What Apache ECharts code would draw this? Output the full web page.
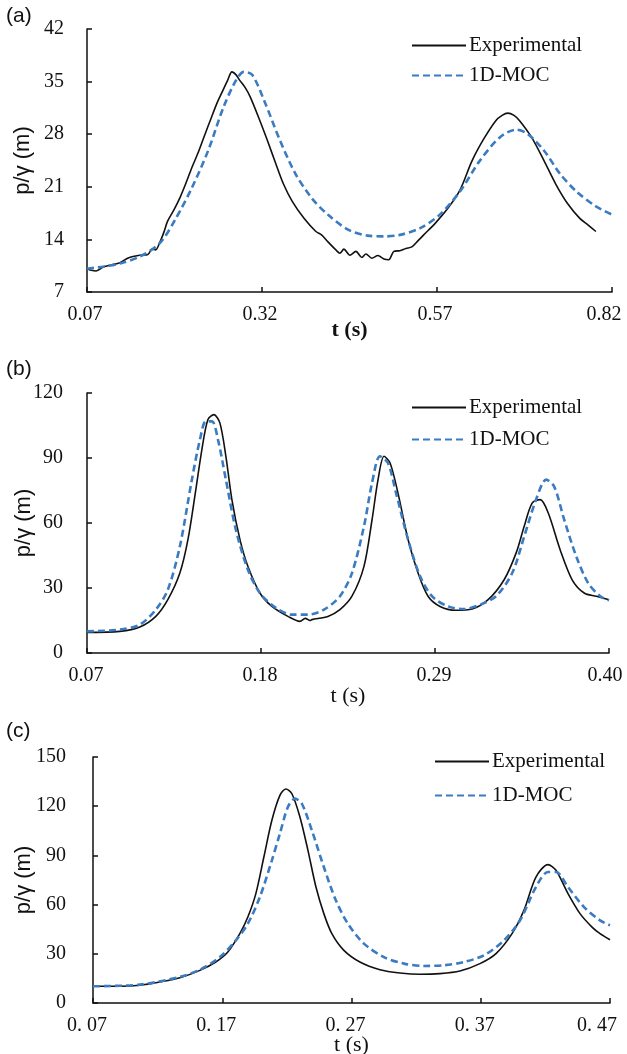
<!DOCTYPE html>
<html>
<head>
<meta charset="utf-8">
<script src="https://cdn.jsdelivr.net/npm/echarts@6/dist/echarts.min.js"></script>
<style>
html,body{margin:0;padding:0;background:#fff;}
#chart{width:627px;height:1054px;}
</style>
</head>
<body>
<div id="chart"></div>
<script>
// ---------- data ----------
const seriesNames = ['Experimental', '1D-MOC'];
const panelLabels = ['(a)', '(b)', '(c)'];

// panel (a)
const aTicksX = [0.07, 0.32, 0.57, 0.82];
const aExp = [[0.070,10.1],[0.076,9.9],[0.083,9.8],[0.094,10.35],[0.105,10.6],[0.117,10.9],[0.128,11.5],[0.134,11.7],[0.145,11.9],[0.157,12.0],[0.163,12.7],[0.168,12.6],[0.174,13.6],[0.180,15.0],[0.185,16.4],[0.194,17.9],[0.203,19.6],[0.211,21.4],[0.220,23.6],[0.229,25.6],[0.237,27.6],[0.248,30.3],[0.256,32.2],[0.263,33.6],[0.271,35.2],[0.277,36.3],[0.283,35.9],[0.288,35.2],[0.296,34.2],[0.303,33.0],[0.317,29.8],[0.328,27.1],[0.340,24.0],[0.351,21.3],[0.363,19.1],[0.380,16.8],[0.397,15.05],[0.405,14.6],[0.414,13.7],[0.4255,12.6],[0.4312,12.15],[0.437,12.7],[0.4455,11.9],[0.4541,12.4],[0.4627,11.6],[0.4684,12.05],[0.477,11.5],[0.4856,11.85],[0.4941,11.4],[0.501,11.3],[0.5084,12.4],[0.517,12.5],[0.5256,12.8],[0.5341,13.0],[0.5427,13.8],[0.551,14.6],[0.568,16.2],[0.586,18.2],[0.603,20.6],[0.620,24.45],[0.637,27.4],[0.654,29.8],[0.663,30.5],[0.671,30.8],[0.680,30.5],[0.688,29.8],[0.705,27.6],[0.723,24.45],[0.740,21.3],[0.757,18.7],[0.774,16.8],[0.786,15.9],[0.797,15.05]];
const aMoc = [[0.07,10.1],[0.095,10.4],[0.117,10.8],[0.145,11.7],[0.174,13.5],[0.197,16.8],[0.220,20.9],[0.243,25.8],[0.265,31.6],[0.283,35.2],[0.294,36.3],[0.306,35.9],[0.323,32.5],[0.346,27.1],[0.368,22.7],[0.391,19.5],[0.414,17.3],[0.443,15.3],[0.471,14.5],[0.494,14.4],[0.517,14.6],[0.546,15.5],[0.574,17.3],[0.603,20.4],[0.631,24.45],[0.660,27.6],[0.683,28.6],[0.700,28.0],[0.723,25.8],[0.746,22.7],[0.769,20.4],[0.797,18.4],[0.820,17.3]];

// panel (b)
const bTicksX = [0.07, 0.18, 0.29, 0.40];
const bExp = [[0.07,9.5],[0.0908,10],[0.1034,12],[0.1135,16.9],[0.1211,24.6],[0.1287,36.9],[0.1338,52.3],[0.1388,75.4],[0.1426,93.8],[0.1464,107.7],[0.1502,110],[0.154,106.2],[0.1578,90.8],[0.1616,70.8],[0.1667,52.3],[0.1717,40],[0.1793,27.7],[0.1869,21.5],[0.197,16.9],[0.2046,14.6],[0.208,16],[0.211,15],[0.2122,15.4],[0.2223,16.9],[0.2299,20],[0.2375,26.2],[0.2451,40],[0.2502,61.5],[0.254,80],[0.2578,90.8],[0.2616,87.7],[0.2666,73.8],[0.273,52.3],[0.2793,36.9],[0.2856,26.2],[0.2932,21.5],[0.3033,19.7],[0.3135,20.3],[0.3236,24.6],[0.3337,33.8],[0.3413,46.2],[0.3464,58.5],[0.3514,69.2],[0.3565,70.8],[0.3616,64.6],[0.3691,47.7],[0.3767,33.8],[0.3843,27.7],[0.392,26.2],[0.40,24.6]];
const bMoc = [[0.07,10],[0.0908,10.8],[0.1034,13.1],[0.1135,20],[0.1211,29.2],[0.1287,49.2],[0.1363,80],[0.1414,98.5],[0.1452,106.9],[0.149,106.9],[0.1528,98.5],[0.1578,80],[0.1641,56.9],[0.1717,38.5],[0.1793,27.7],[0.1894,20.8],[0.1996,17.7],[0.2097,17.7],[0.2198,20],[0.2299,26.2],[0.2375,36.9],[0.2451,58.5],[0.2502,78.5],[0.2552,90.8],[0.2603,87.7],[0.2654,73.8],[0.273,52.3],[0.2806,35.4],[0.2881,26.2],[0.2983,21.5],[0.3084,20.3],[0.3185,22.3],[0.3286,26.2],[0.3388,36.9],[0.3464,53.8],[0.3539,70.8],[0.3603,80],[0.3653,76.9],[0.3717,61.5],[0.3793,44.6],[0.3868,32.3],[0.3944,26.2],[0.40,24.3]];

// panel (c)
const cTicksX = [0.07, 0.17, 0.27, 0.37, 0.47];
const cExp = [[0.07,10.2],[0.0907,10.2],[0.1062,10.8],[0.1217,12.8],[0.1372,15.4],[0.1527,19.9],[0.165,25],[0.1743,31.1],[0.1836,42.3],[0.1898,52.4],[0.196,66.7],[0.2022,89],[0.2084,111.4],[0.2146,126.6],[0.2192,130.5],[0.2239,127.6],[0.2301,113.4],[0.2363,93.1],[0.2425,70.7],[0.2486,54.5],[0.2548,42.3],[0.2641,32.1],[0.2765,25],[0.292,20.3],[0.3075,18.3],[0.323,17.5],[0.3384,17.9],[0.3539,19.5],[0.3694,24],[0.3818,30.1],[0.3942,42.3],[0.4034,56.5],[0.4127,76.8],[0.422,84.4],[0.4282,80.9],[0.4375,66.7],[0.4468,54.5],[0.4561,46.3],[0.4623,42.3],[0.47,38.6]];
const cMoc = [[0.07,10.2],[0.1062,11.2],[0.1372,15.9],[0.1527,20.3],[0.1682,28],[0.1805,38.2],[0.1898,48.4],[0.1991,64.6],[0.2084,87],[0.2146,103.3],[0.2208,119.5],[0.2263,124.6],[0.2316,121.5],[0.2393,105.3],[0.2486,82.9],[0.2579,62.6],[0.2672,48.4],[0.2796,36.2],[0.2951,28],[0.3106,24],[0.326,22.6],[0.3415,23],[0.357,25],[0.3725,29.1],[0.388,38.2],[0.4004,50.4],[0.4127,70.7],[0.422,79.9],[0.4282,79.9],[0.4375,70.7],[0.4499,58.5],[0.4623,50.4],[0.47,47.4]];

// y axes ranges
const yRanges = [[7, 42, 7], [0, 120, 30], [0, 150, 30]];

// ---------- chart ----------
const SERIF = '"Liberation Serif","Times New Roman",serif';
const SANS = '"Liberation Sans",Arial,sans-serif';
const INK = '#111';
const BLUE = '#3a7bc2';

const grids = [
  {left: 87, right: 15, top: 29, height: 263, outerBoundsMode: 'none', containLabel: false},
  {left: 87, right: 18, top: 393, height: 260, outerBoundsMode: 'none', containLabel: false},
  {left: 93, right: 17, top: 757, height: 246, outerBoundsMode: 'none', containLabel: false}
];
const xTicks = [aTicksX, bTicksX, cTicksX];
const xText = [
  v => v.toFixed(2),
  v => v.toFixed(2),
  v => v.toFixed(2).replace('.', '. ')
];
// right padding shifts a centred label to the left (px of padding = 2 x shift)
const xPadNormal = [4, 2, 12];
const xPadLast = [16, 8, 26];
const xNameGap = [27, 32, 31];
const xNameBold = ['bold', 'normal', 'normal'];
const yLabelMargin = [23, 24, 27];
const yNameGap = [53, 52, 58];

const xAxis = xTicks.map((t, i) => {
  const lbl = {fontFamily: SERIF, fontSize: 20, color: INK};
  return {
    type: 'value', gridIndex: i,
    min: t[0], max: t[t.length - 1],
    name: 't (s)', nameLocation: 'middle', nameGap: xNameGap[i], nameMoveOverlap: false,
    nameTextStyle: {fontFamily: SERIF, fontSize: 22, color: INK, fontWeight: xNameBold[i]},
    axisLine: {lineStyle: {color: INK, width: 1.5}},
    axisTick: {inside: true, length: 5, customValues: t, lineStyle: {color: INK, width: 1.5}},
    axisLabel: {
      customValues: t, margin: 13, fontFamily: SERIF, fontSize: 20, color: INK,
      formatter: v => (Math.abs(v - t[t.length - 1]) < 1e-9 ? '{l|' : '{n|') + xText[i](v) + '}',
      rich: {
        n: Object.assign({padding: [0, xPadNormal[i], 0, 0]}, lbl),
        l: Object.assign({padding: [0, xPadLast[i], 0, 0]}, lbl)
      }
    },
    splitLine: {show: false}
  };
});

const yAxis = yRanges.map((r, i) => ({
  type: 'value', gridIndex: i,
  min: r[0], max: r[1], interval: r[2],
  name: 'p/γ (m)', nameLocation: 'middle', nameGap: yNameGap[i], nameMoveOverlap: false,
  nameTextStyle: {fontFamily: SANS, fontSize: 22, color: INK},
  axisLine: {show: true, lineStyle: {color: INK, width: 1.5}},
  axisTick: {show: true, inside: true, length: 5, lineStyle: {color: INK, width: 1.5}},
  axisLabel: {fontFamily: SERIF, fontSize: 20, color: INK, margin: yLabelMargin[i]},
  splitLine: {show: false}
}));

const expData = [aExp, bExp, cExp];
const mocData = [aMoc, bMoc, cMoc];
const series = [];
for (let i = 0; i < 3; i++) {
  series.push({
    name: seriesNames[0], type: 'line', xAxisIndex: i, yAxisIndex: i,
    data: expData[i], symbol: 'none', showSymbol: false, smooth: 0.3, z: 3,
    lineStyle: {color: INK, width: 1.6}, itemStyle: {color: INK}
  });
  series.push({
    name: seriesNames[1], type: 'line', xAxisIndex: i, yAxisIndex: i,
    data: mocData[i], symbol: 'none', showSymbol: false, smooth: 0.3, z: 4,
    lineStyle: {color: BLUE, width: 2.6, type: [7, 4]}, itemStyle: {color: BLUE}
  });
}

const legendPos = [
  {left: 406, top: 30, itemGap: 9},
  {left: 406, top: 392, itemGap: 11},
  {left: 429, top: 746, itemGap: 13}
];
const legend = legendPos.map(p => ({
  left: p.left, top: p.top, orient: 'vertical', itemGap: p.itemGap,
  itemWidth: 54, itemHeight: 14, selectedMode: false,
  itemStyle: {opacity: 0},
  data: seriesNames,
  textStyle: {fontFamily: SERIF, fontSize: 21, color: INK, padding: [0, 0, 0, -2]}
}));

const labelTops = [6, 359, 721];
const graphic = panelLabels.map((t, i) => ({
  type: 'text', left: 6, top: labelTops[i],
  style: {text: t, font: '21px ' + SANS, fill: INK}
}));

const chart = echarts.init(document.getElementById('chart'), null, {renderer: 'canvas'});
chart.setOption({
  animation: false,
  backgroundColor: '#fff',
  grid: grids,
  xAxis: xAxis,
  yAxis: yAxis,
  legend: legend,
  series: series,
  graphic: graphic
});
</script>
</body>
</html>
